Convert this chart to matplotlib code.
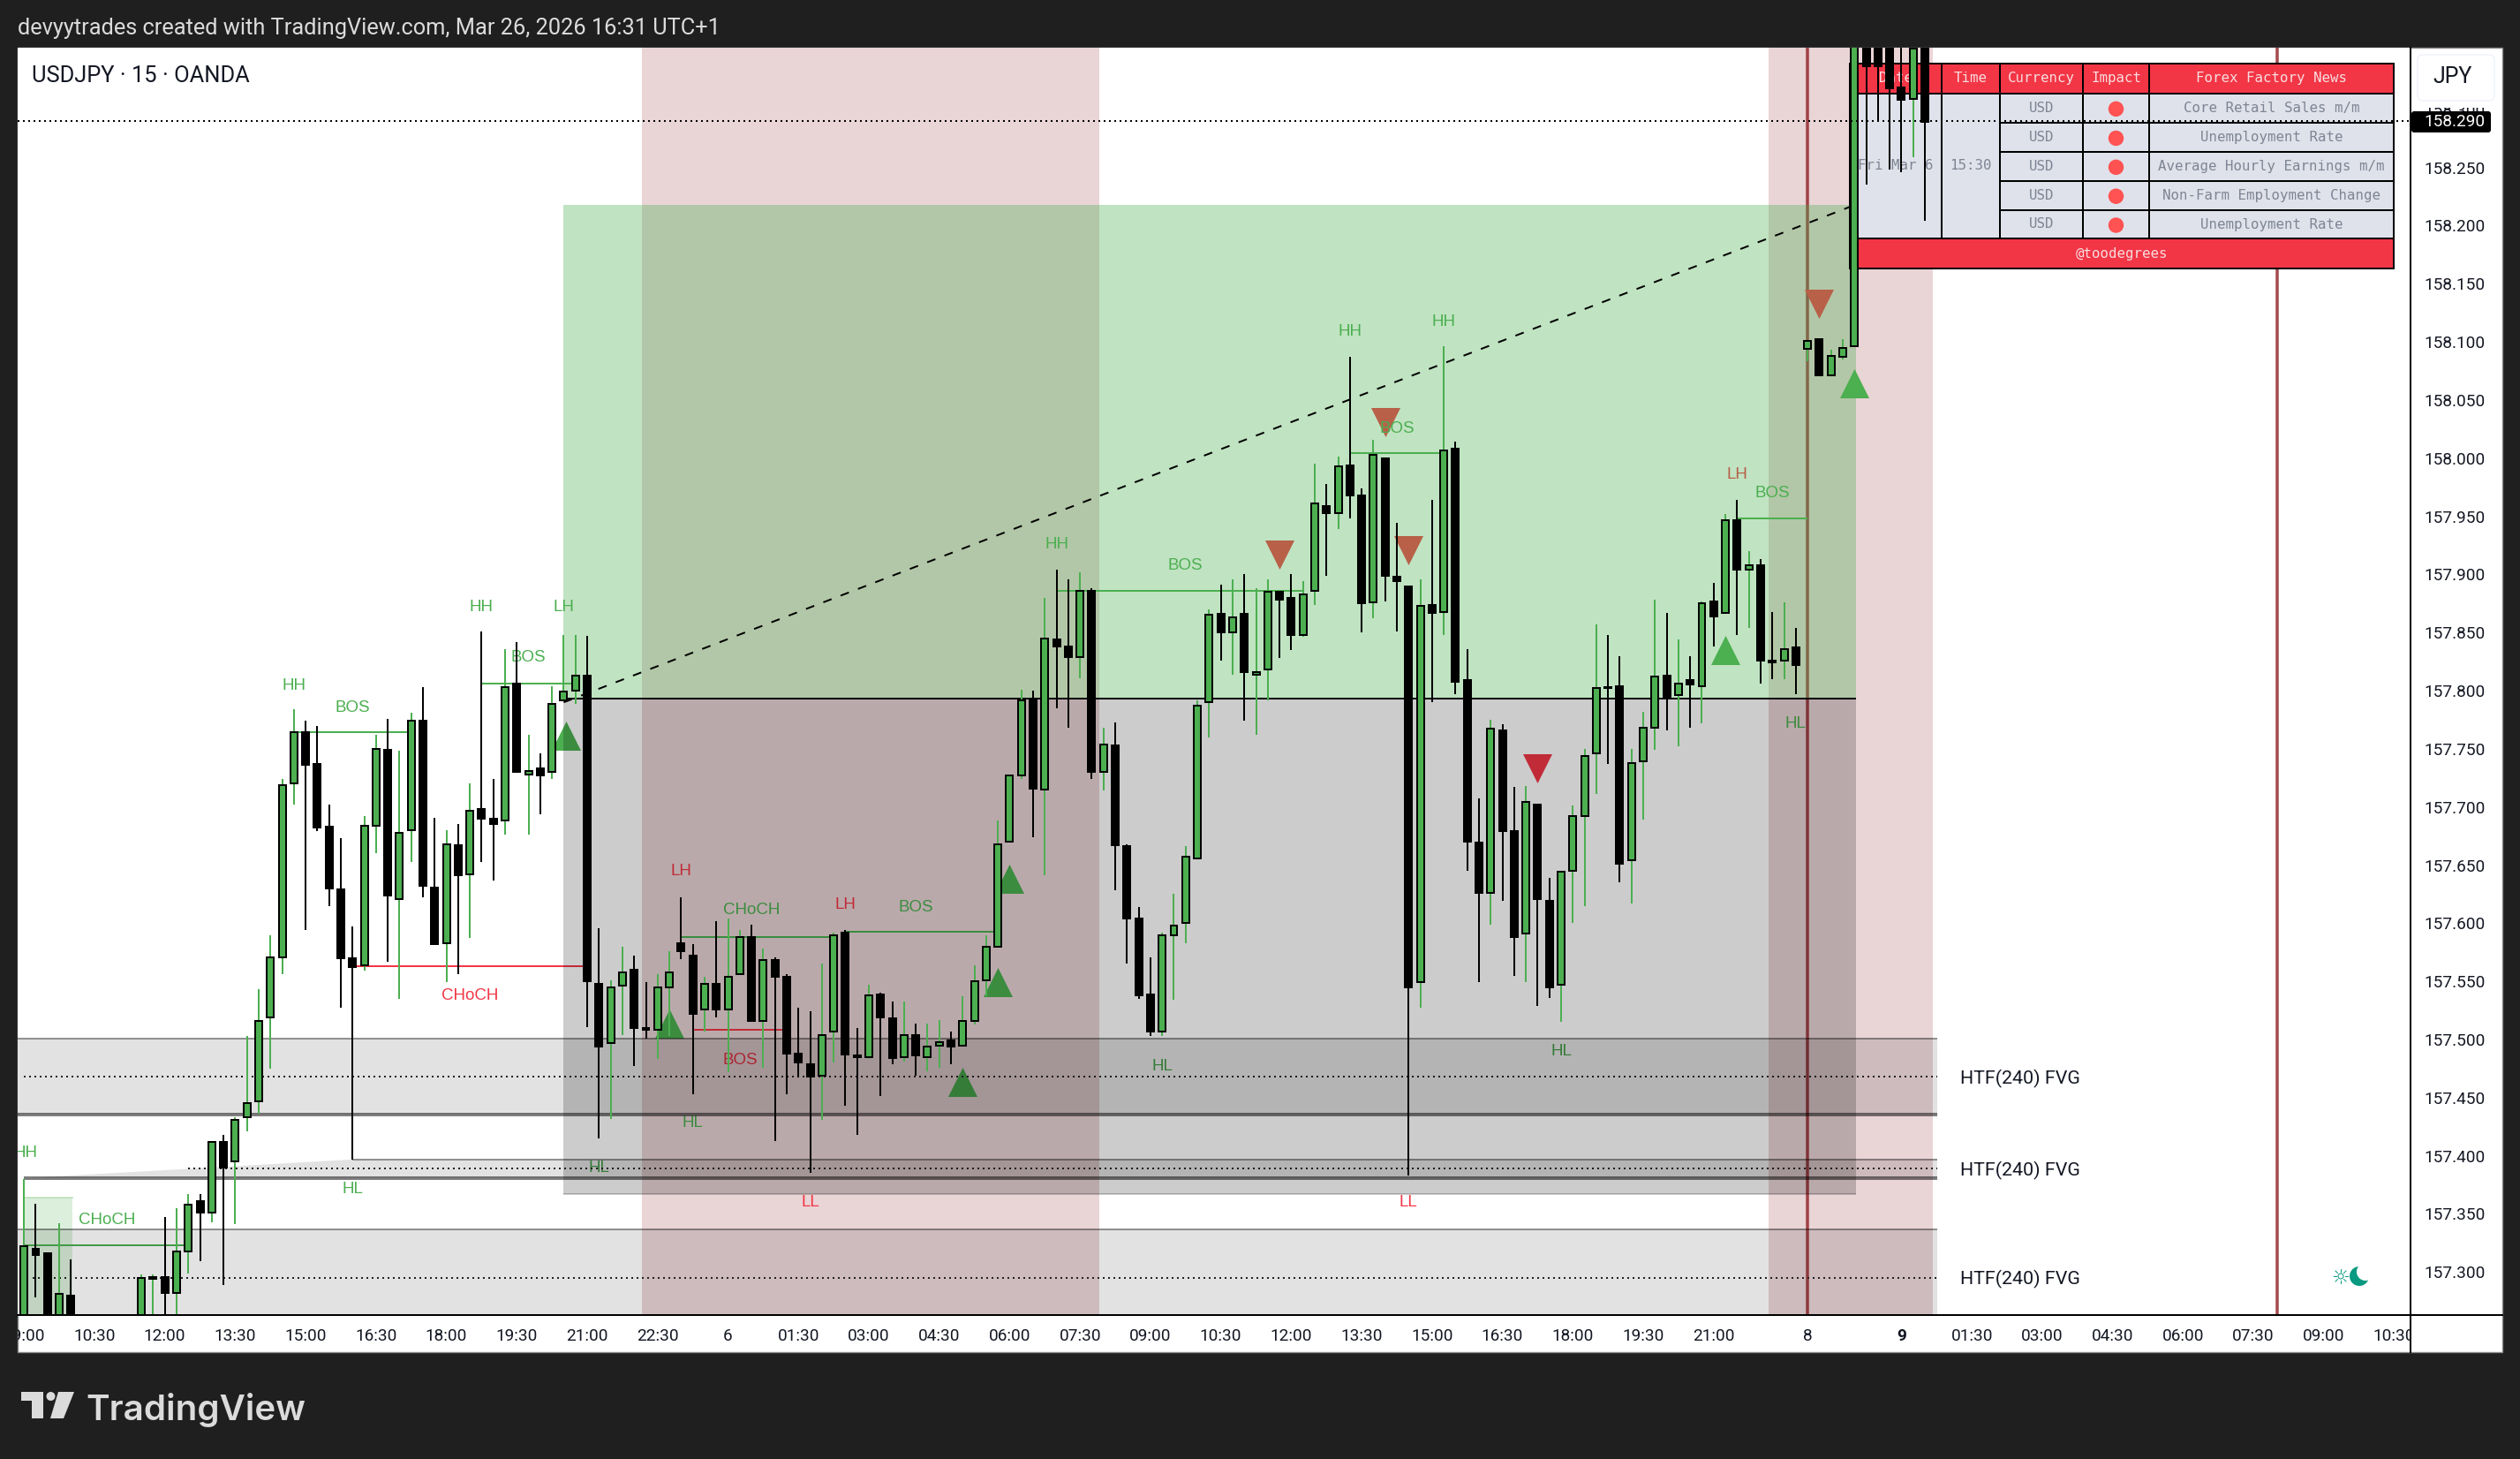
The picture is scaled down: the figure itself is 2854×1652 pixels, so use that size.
import matplotlib
matplotlib.use("Agg")
import matplotlib.pyplot as plt
from matplotlib.patches import Rectangle, Circle, Polygon, FancyBboxPatch
from matplotlib.lines import Line2D
from matplotlib.transforms import Affine2D, Bbox, offset_copy

# ---------- data ----------
opens = [157.20,157.320,157.316,157.24,157.280,157.25,157.23,157.24,157.23,157.24,
157.25,157.294,157.296,157.282,157.318,157.361,157.351,157.412,157.395,157.433,
157.447,157.519,157.571,157.720,157.764,157.737,157.683,157.629,157.570,157.564,
157.684,157.749,157.621,157.680,157.774,157.631,157.583,157.667,157.642,157.698,
157.690,157.688,157.806,157.728,157.733,157.730,157.792,157.800,157.813,157.548,
157.497,157.546,157.560,157.510,157.508,157.545,157.583,157.572,157.526,157.548,
157.526,157.556,157.588,157.516,157.568,157.554,157.488,157.479,157.469,157.507,
157.592,157.486,157.485,157.539,157.518,157.485,157.504,157.485,157.495,157.499,
157.495,157.516,157.551,157.580,157.670,157.727,157.793,157.715,157.844,157.838,
157.829,157.886,157.730,157.753,157.666,157.604,157.539,157.507,157.590,157.600,
157.656,157.790,157.866,157.850,157.866,157.814,157.818,157.885,157.880,157.848,
157.886,157.959,157.953,157.994,157.968,157.876,158.000,157.898,157.890,157.549,
157.874,157.868,158.008,157.809,157.669,157.626,157.766,157.679,157.591,157.702,
157.619,157.547,157.645,157.692,157.746,157.803,157.804,157.654,157.739,157.768,
157.813,157.796,157.809,157.804,157.877,157.867,157.947,157.904,157.908,157.826,
157.826,157.837,158.094,158.102,158.071,158.087,158.096,158.400,158.400,158.400,
158.319,158.309,158.400]
highs = [157.380,157.359,157.317,157.342,157.311,157.255,157.25,157.25,157.25,157.255,
157.298,157.298,157.347,157.355,157.367,157.367,157.412,157.418,157.433,157.503,
157.543,157.590,157.724,157.784,157.774,157.770,157.702,157.673,157.597,157.692,
157.762,157.776,157.748,157.781,157.803,157.691,157.680,157.685,157.720,157.851,
157.724,157.836,157.842,157.762,157.746,157.804,157.848,157.848,157.847,157.596,
157.551,157.580,157.572,157.549,157.556,157.576,157.622,157.582,157.554,157.602,
157.604,157.594,157.599,157.578,157.571,157.556,157.527,157.524,157.565,157.592,
157.594,157.510,157.547,157.540,157.533,157.533,157.514,157.514,157.517,157.507,
157.537,157.564,157.590,157.688,157.727,157.801,157.800,157.880,157.904,157.896,
157.902,157.888,157.768,157.773,157.668,157.614,157.571,157.592,157.625,157.666,
157.792,157.870,157.891,157.896,157.900,157.888,157.896,157.886,157.900,157.894,
157.995,157.978,158.001,158.087,157.974,158.016,158.000,157.944,157.890,157.896,
157.964,158.096,158.014,157.836,157.707,157.775,157.771,157.717,157.718,157.702,
157.639,157.644,157.701,157.750,157.857,157.848,157.830,157.750,157.782,157.878,
157.867,157.844,157.830,157.877,157.893,157.952,157.964,157.920,157.913,157.868,
157.876,157.854,158.101,158.102,158.093,158.102,158.420,158.420,158.420,158.420,
158.420,158.420,158.420]
lows = [157.18,157.278,157.23,157.23,157.24,157.22,157.21,157.22,157.21,157.23,
157.24,157.25,157.25,157.25,157.299,157.309,157.343,157.289,157.341,157.421,
157.436,157.475,157.556,157.702,157.594,157.679,157.615,157.527,157.397,157.559,
157.660,157.567,157.535,157.653,157.622,157.581,157.549,157.556,157.587,157.653,
157.637,157.676,157.730,157.676,157.694,157.724,157.792,157.789,157.511,157.415,
157.432,157.504,157.477,157.501,157.483,157.503,157.569,157.453,157.507,157.519,
157.472,157.556,157.515,157.476,157.413,157.453,157.467,157.385,157.431,157.480,
157.443,157.418,157.483,157.451,157.479,157.481,157.469,157.473,157.476,157.479,
157.495,157.513,157.537,157.580,157.670,157.724,157.674,157.641,157.785,157.768,
157.811,157.724,157.714,157.628,157.565,157.535,157.503,157.503,157.534,157.583,
157.655,157.760,157.826,157.814,157.774,157.762,157.792,157.828,157.835,157.846,
157.874,157.899,157.939,157.948,157.850,157.862,157.877,157.851,157.383,157.527,
157.790,157.848,157.797,157.645,157.549,157.599,157.619,157.555,157.549,157.529,
157.536,157.515,157.600,157.615,157.711,157.737,157.635,157.617,157.689,157.749,
157.766,157.752,157.768,157.772,157.838,157.867,157.848,157.854,157.806,157.810,
157.810,157.797,158.083,158.071,158.071,158.085,158.096,158.235,158.291,158.248,
158.246,158.259,158.204]
closes = [157.322,157.315,157.24,157.281,157.25,157.23,157.24,157.23,157.24,157.25,
157.295,157.296,157.282,157.318,157.358,157.351,157.412,157.390,157.431,157.445,
157.516,157.571,157.719,157.764,157.736,157.682,157.630,157.570,157.562,157.684,
157.750,157.624,157.678,157.774,157.632,157.582,157.668,157.641,157.697,157.690,
157.685,157.803,157.730,157.731,157.727,157.789,157.799,157.813,157.550,157.494,
157.545,157.558,157.510,157.508,157.545,157.558,157.576,157.522,157.548,157.526,
157.554,157.588,157.516,157.568,157.554,157.488,157.480,157.468,157.504,157.590,
157.487,157.485,157.538,157.519,157.484,157.504,157.486,157.494,157.498,157.494,
157.516,157.550,157.580,157.668,157.727,157.792,157.716,157.845,157.838,157.829,
157.886,157.730,157.754,157.667,157.604,157.538,157.507,157.590,157.598,157.657,
157.787,157.865,157.850,157.863,157.816,157.816,157.885,157.878,157.848,157.883,
157.961,157.953,157.993,157.968,157.875,158.003,157.899,157.894,157.545,157.873,
157.867,158.007,157.808,157.670,157.626,157.767,157.679,157.588,157.704,157.621,
157.545,157.644,157.692,157.744,157.802,157.802,157.651,157.738,157.768,157.812,
157.795,157.806,157.805,157.875,157.864,157.947,157.904,157.908,157.826,157.824,
157.836,157.822,158.101,158.071,158.088,158.095,158.400,158.337,158.337,158.318,
158.308,158.352,158.289]

tick_pos = [0,6,12,18,24,30,36,42,48,54,60,66,72,78,84,90,96,102,108,114,120,126,132,138,144,152,160,166,172,178,184,190,196,202]
tick_txt = ["09:00","10:30","12:00","13:30","15:00","16:30","18:00","19:30","21:00","22:30","6",
            "01:30","03:00","04:30","06:00","07:30","09:00","10:30","12:00","13:30","15:00","16:30",
            "18:00","19:30","21:00","8","9","01:30","03:00","04:30","06:00","07:30","09:00","10:30"]
price_ticks = [157.30,157.35,157.40,157.45,157.50,157.55,157.60,157.65,157.70,157.75,157.80,
               157.85,157.90,157.95,158.00,158.05,158.10,158.15,158.20,158.25,158.30]

last_price = 158.29
entry_price, target_price, stop_price = 157.793, 158.2176, 157.367
fvg_top = [157.5008, 157.3968, 157.3366]
fvg_mid = [157.468, 157.389, 157.295]
fvg_bot = [157.4357, 157.3807, 157.20]

up_i = [46.2,55,80,83,84,145,156]
up_p = [157.761,157.514,157.4635,157.549,157.638,157.835,158.0646]
dn_i = [107,116,118,129,153]
dn_p = [157.917,158.031,157.921,157.733,158.133]

# structure lines: (start, end, price, colour key)
struct_lines = [(0,14,157.323,"g"),(23,33,157.764,"g"),(39,47,157.806,"g"),(28,48,157.563,"r"),
                (56,69,157.588,"g"),(70,83,157.593,"g"),(57,65,157.508,"r"),(88,109,157.886,"g"),
                (113,121,158.004,"g"),(146,152,157.948,"g")]
label_txt = ["HH","BOS","HH","BOS","LH","CHoCH","HL","HH","CHoCH","HL","HL","LH","CHoCH","LH","BOS",
             "BOS","LL","HH","BOS","HL","HH","BOS","HH","LL","HL","LH","BOS","HL"]
label_i = [23,28,39,43,46,38,28,0.1,7.1,49,57,56,62,70,76,61,67,88,99,97,113,117,121,118,131,146,149,151]
label_p = [157.806,157.787,157.873,157.830,157.873,157.539,157.373,157.404,157.346,157.391,157.430,
           157.646,157.613,157.617,157.615,157.484,157.361,157.927,157.909,157.478,158.110,158.027,
           158.119,157.361,157.491,157.987,157.971,157.773]
label_c = "gggggrgggggrgrgrrggggggrgrgg"

news_cur = ["USD"]*5
news_txt = ["Core Retail Sales m/m","Unemployment Rate","Average Hourly Earnings m/m",
            "Non-Farm Employment Change","Unemployment Rate"]
news_head = ["Date","Time","Currency","Impact","Forex Factory News"]

# ---------- figure ----------
W, H = 2854, 1652
DARK = "#1F1F1F"; GREEN = "#4CAF50"; RED = "#F23645"
SANS = "Roboto"
fig = plt.figure(figsize=(W/100, H/100), dpi=100, facecolor=DARK)
px = Affine2D().scale(1, -1).translate(0, H)
pt = 0.72

fig.add_artist(Rectangle((20, 54), 2814, 1477, transform=px, fc="white", ec="#8a8a8a", lw=1.0, zorder=-5))

L, R, T, B = 20, 2730, 54, 1489
ax = fig.add_axes([L/W, (H-B)/H, (R-L)/W, (B-T)/H], facecolor="white")
ax.set_xlim(-0.542, 203.39)
ax.set_ylim(157.263, 158.353)
for s in ("top", "left"):
    ax.spines[s].set_visible(False)
ax.spines["bottom"].set_linewidth(2*pt); ax.spines["right"].set_linewidth(2*pt)
ax.spines["bottom"].set_zorder(30); ax.spines["right"].set_zorder(30)
txt_tr = offset_copy(ax.transData, fig=fig, y=-2, units="dots")

# sessions (bottom layer of the tints)
SESS = "#8E1E28"
for a, b in ((52.65, 91.65), (148.66, 162.66)):
    ax.axvspan(a, b, fc=SESS, alpha=0.19, lw=0, zorder=1)

# vertical lines
for v in (152, 192):
    ax.axvline(v, color="#8E1E22", alpha=0.8, lw=3.5*pt, zorder=2)

# markers
ax.scatter(up_i, up_p, marker="^", s=565, c=GREEN, linewidths=0, zorder=2)
ax.scatter(dn_i, dn_p, marker="v", s=565, c=RED, linewidths=0, zorder=2)

# structure
colmap = {"g": GREEN, "r": RED}
for a, b, p, c in struct_lines:
    ax.plot([a, b], [p, p], color=colmap[c], lw=2*pt, zorder=2.2, solid_capstyle="butt")
for t, i, p, c in zip(label_txt, label_i, label_p, label_c):
    ax.text(i, p, t, color=colmap[c], fontsize=13.5, family="Liberation Sans", ha="center", va="center", zorder=2.5,
            clip_on=True, transform=txt_tr)

# CHoCH small zone
ax.add_patch(Rectangle((0, 157.2), 4.12, 157.364-157.2, fc=GREEN, alpha=0.2, lw=0, zorder=3))
ax.plot([0, 4.12], [157.364, 157.364], color=GREEN, alpha=0.25, lw=2*pt, zorder=3)

# FVG zones
RIGHT = 163.05
ax.add_patch(Rectangle((-1, fvg_bot[0]), RIGHT+1, fvg_top[0]-fvg_bot[0], fc="black", alpha=0.115, lw=0, zorder=3))
ax.add_patch(Polygon([(0, fvg_bot[1]), (28, fvg_top[1]), (RIGHT, fvg_top[1]), (RIGHT, fvg_bot[1])],
                     fc="black", alpha=0.115, lw=0, zorder=3))
ax.add_patch(Rectangle((-1, fvg_bot[2]), RIGHT+1, fvg_top[2]-fvg_bot[2], fc="black", alpha=0.115, lw=0, zorder=3))
starts_top = [-1, 28, -1]
starts_mid = [0, 14, 0.7]
starts_bot = [-1, 0, -1]
for k in range(3):
    ax.plot([starts_top[k], RIGHT], [fvg_top[k]]*2, color="black", alpha=0.4, lw=2*pt, zorder=3.2, solid_capstyle="butt")
    ax.plot([starts_bot[k], RIGHT], [fvg_bot[k]]*2, color="black", alpha=0.5, lw=4*pt, zorder=3.2, solid_capstyle="butt")
    ax.plot([starts_mid[k], RIGHT], [fvg_mid[k]]*2, color="#222222", lw=2*pt, ls=(0, (1, 2)), zorder=3.3)
    ax.text(165, fvg_mid[k], "HTF(240) FVG", color="#131722", fontsize=15.4, family=SANS, ha="left", va="center",
            zorder=5, transform=txt_tr)

# position box
ax.add_patch(Rectangle((46, entry_price), 110.1, target_price-entry_price, fc=GREEN, alpha=0.35, lw=0, zorder=3.5))
ax.add_patch(Rectangle((46, stop_price), 110.1, entry_price-stop_price, fc="black", alpha=0.2, lw=0, zorder=3.5))
ax.plot([46, 156.1], [stop_price]*2, color="black", alpha=0.2, lw=2*pt, zorder=3.6, solid_capstyle="butt")
ax.plot([46, 156.1], [entry_price]*2, color="black", lw=2*pt, zorder=4, solid_capstyle="butt")
ax.plot([46, 156], [157.79, target_price], color="black", lw=2*pt, ls=(0, (5, 5.5)), zorder=4)

# news table (pixel placed, under the candles)
col_x = [2095, 2199, 2265, 2359, 2434, 2711]
row_y = [72, 105.7, 139, 172, 204.7, 237.7, 270.3, 304]
def tbl_rect(x0, y0, x1, y1, fc):
    ax.add_patch(Rectangle((x0, y0), x1-x0, y1-y0, transform=px, fc=fc, ec="black", lw=2*pt, zorder=6, clip_on=False))
def tbl_text(x, y, s, c):
    ax.text(x, y, s, transform=px, color=c, fontsize=11.3, family="DejaVu Sans Mono", ha="center", va="center",
            zorder=6.5, clip_on=False)
HEAD_TXT = "#F9DDE0"; BODY = "#DFE2EA"; BODY_TXT = "#7E8494"
for j in range(5):
    tbl_rect(col_x[j], row_y[0], col_x[j+1], row_y[1], RED)
    tbl_text((col_x[j]+col_x[j+1])/2, (row_y[0]+row_y[1])/2, news_head[j], HEAD_TXT)
for j in (0, 1):
    tbl_rect(col_x[j], row_y[1], col_x[j+1], row_y[6], BODY)
tbl_text((col_x[0]+col_x[1])/2, (row_y[1]+row_y[6])/2, "Fri Mar 6", BODY_TXT)
tbl_text((col_x[1]+col_x[2])/2, (row_y[1]+row_y[6])/2, "15:30", BODY_TXT)
for r in range(5):
    y0, y1 = row_y[r+1], row_y[r+2]
    for j in (2, 3, 4):
        tbl_rect(col_x[j], y0, col_x[j+1], y1, BODY)
    tbl_text((col_x[2]+col_x[3])/2, (y0+y1)/2, news_cur[r], BODY_TXT)
    tbl_text((col_x[4]+col_x[5])/2, (y0+y1)/2, news_txt[r], BODY_TXT)
    ax.add_patch(Circle(((col_x[3]+col_x[4])/2, (y0+y1)/2+1), 8.7, transform=px, fc="#FF5252", lw=0, zorder=6.5, clip_on=False))
tbl_rect(col_x[0], row_y[6], col_x[5], row_y[7], RED)
tbl_text((col_x[0]+col_x[5])/2, (row_y[6]+row_y[7])/2, "@toodegrees", HEAD_TXT)

# candles
idx = list(range(len(opens)))
wick_col = [GREEN if c >= o else "black" for o, c in zip(opens, closes)]
body_col = [GREEN if c >= o else "black" for o, c in zip(opens, closes)]
bott = [min(o, c) for o, c in zip(opens, closes)]
hgt = [abs(c-o) for o, c in zip(opens, closes)]
ax.vlines(idx, lows, highs, colors=wick_col, lw=2*pt, zorder=8)
ax.bar(idx, hgt, bottom=bott, width=0.6, color=body_col, edgecolor="black", linewidth=2*pt, zorder=9)

# last price line
ax.axhline(last_price, color="black", lw=2*pt, ls=(0, (1, 2)), zorder=10)

# axes ticks
ax.set_xticks(tick_pos, tick_txt)
ax.set_yticks(price_ticks, [f"{p:.3f}" for p in price_ticks])
ax.yaxis.tick_right()
ax.tick_params(axis="y", length=0, pad=11, labelsize=13.7, labelcolor="#131722")
ax.tick_params(axis="x", length=0, pad=11, labelsize=13.7, labelcolor="#131722")
clipbox = Bbox.from_extents(L, 0, R, H)
for lb in ax.get_xticklabels():
    lb.set_family(SANS)
    lb.set_clip_box(clipbox); lb.set_clip_on(True)
    if lb.get_text() == "9":
        lb.set_fontweight("bold")
for lb in ax.get_yticklabels():
    lb.set_family(SANS)

# axis extensions
fig.add_artist(Line2D([2730, 2730], [1489, 1531], transform=px, color="black", lw=2*pt))
fig.add_artist(Line2D([2730, 2834], [1489, 1489], transform=px, color="black", lw=2*pt))

# price tag & currency box
ax.add_patch(Rectangle((2732, 60), 100, 62, transform=px, fc="white", lw=0, zorder=39, clip_on=False))
tag = FancyBboxPatch((2731, 126), 90, 24, boxstyle="round,pad=0,rounding_size=3", transform=px,
                     fc="black", lw=0, zorder=40, clip_on=False)
ax.add_patch(tag)
ax.text(2780, 138, "158.290", transform=px, color="white", fontsize=13.7, family=SANS, ha="center", va="center",
        zorder=41, clip_on=False)
jpy = FancyBboxPatch((2738, 62), 87, 52, boxstyle="round,pad=0,rounding_size=6", transform=px,
                     fc="white", ec="#F0F3FA", lw=1.5*pt, zorder=40, clip_on=False)
ax.add_patch(jpy)
ax.text(2778, 87, "JPY", transform=px, color="#131722", fontsize=18, family=SANS, ha="center", va="center",
        zorder=41, clip_on=False)

# titles
fig.text(20, 32, "devyytrades created with TradingView.com, Mar 26, 2026 16:31 UTC+1", transform=px,
         color="#DBDBDB", fontsize=18.3, family=SANS, ha="left", va="center")
ax.text(36, 86, "USDJPY · 15 · OANDA", transform=px, color="#131722", fontsize=18.4, family=SANS, ha="left", va="center",
        zorder=20, clip_on=False)

# session icon
TEAL = "#089981"
ax.add_patch(Circle((2672, 1445), 11, transform=px, fc=TEAL, lw=0, zorder=20, clip_on=False))
ax.add_patch(Circle((2679, 1440), 10, transform=px, fc="white", lw=0, zorder=21, clip_on=False))
ax.add_patch(Circle((2651, 1445), 3, transform=px, fc="white", ec=TEAL, lw=1*pt, zorder=21, clip_on=False))
for dx, dy in ((8, 0), (-8, 0), (0, 8), (0, -8), (6, 6), (-6, 6), (6, -6), (-6, -6)):
    ax.add_line(Line2D([2651+dx*0.6, 2651+dx], [1445+dy*0.6, 1445+dy], transform=px, color=TEAL, lw=1*pt, zorder=21, clip_on=False))

# logo
LOGO = "#DBDBDB"
fig.add_artist(Polygon([(24, 1576), (49, 1576), (49, 1606), (36, 1606), (36, 1586), (24, 1586)], transform=px, fc=LOGO, lw=0))
fig.add_artist(Circle((57.5, 1581), 5, transform=px, fc=LOGO, lw=0))
fig.add_artist(Polygon([(66, 1576), (84, 1576), (72, 1606), (57, 1606)], transform=px, fc=LOGO, lw=0))
fig.text(97, 1597, "TradingView", transform=px, color=LOGO, fontsize=29, family="Inter", fontweight="semibold",
         ha="left", va="center")

fig.savefig("out.png", dpi=100, facecolor=fig.get_facecolor())
